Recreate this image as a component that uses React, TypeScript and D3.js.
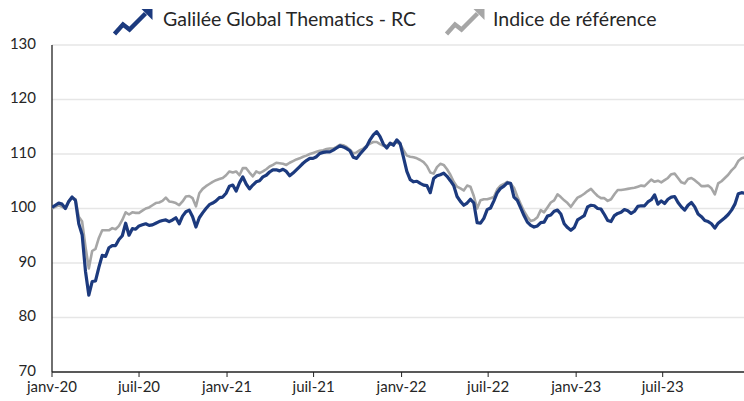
import React from 'react';
import * as d3 from 'd3';

const W = 744;
const H = 401;

// weekly points from 1 Jan 2020
const startDate = new Date(2020, 0, 1);

const fundValues = [
  100.2, 100.6, 101.0, 100.8, 100.0, 101.3, 102.1, 101.5, 97.2, 95.2,
  88.5, 84.1, 86.6, 86.7, 89.2, 91.4, 91.2, 92.8, 93.2, 93.2,
  94.3, 95.0, 97.3, 95.1, 96.3, 96.2, 96.8, 97.0, 97.2, 96.9,
  97.0, 97.3, 97.6, 97.8, 97.9, 97.6, 97.9, 98.3, 97.2, 98.6,
  99.4, 99.7, 98.5, 96.6, 98.3, 99.2, 100.0, 100.7, 101.0, 101.4,
  102.0, 102.1, 102.8, 104.1, 104.3, 103.2, 104.7, 105.8, 104.5, 103.6,
  104.3, 104.9, 105.1, 105.8, 106.1, 106.7, 107.1, 107.1, 106.9, 107.2,
  106.8, 106.0, 106.5, 107.1, 107.7, 108.3, 108.8, 109.2, 109.2, 109.5,
  110.1, 110.3, 110.4, 110.4, 110.7, 111.1, 111.5, 111.3, 111.0, 110.6,
  109.4, 109.2, 110.0, 110.7, 111.4, 112.6, 113.5, 114.1, 113.2, 111.8,
  111.1, 112.0, 111.6, 112.6, 111.9, 109.4, 106.8, 105.3, 104.9, 105.0,
  104.6, 104.3, 104.2, 102.9, 105.5, 106.0, 106.2, 106.5, 105.9, 105.1,
  104.2, 102.2, 101.3, 100.6, 101.0, 101.7, 101.0, 97.4, 97.3, 98.2,
  99.8, 100.1, 101.4, 102.9, 103.7, 104.1, 104.7, 104.6, 102.1, 101.5,
  100.1, 98.7, 97.5, 96.9, 96.6, 96.8, 97.4, 97.5, 98.6, 98.8,
  99.5, 99.7, 99.0, 97.2, 96.5, 96.0, 96.5, 97.9, 98.3, 98.7,
  100.3, 100.6, 100.5, 100.0, 99.9, 98.9, 97.8, 97.6, 98.7, 99.1,
  99.3, 99.8, 99.6, 99.1, 99.5, 100.4, 100.5, 100.5, 101.2, 101.6,
  102.5, 100.8, 101.4, 100.9, 101.7, 102.1, 102.2, 101.1, 100.3, 99.7,
  100.6, 101.1, 100.3, 99.0, 98.5, 97.8, 97.6, 97.2, 96.4, 97.3,
  97.8, 98.3, 98.9, 99.7, 100.8, 102.7, 102.9, 102.8,
];

const indexValues = [
  100.0, 100.3, 100.6, 100.3, 100.0, 101.3, 102.0, 101.7, 98.5, 97.6,
  93.0, 89.0, 92.2, 92.6, 94.6, 96.0, 96.0, 96.0, 96.4, 96.2,
  96.8, 97.9, 99.3, 98.9, 99.3, 99.2, 99.2, 99.6, 100.0, 100.2,
  100.6, 101.0, 101.1, 101.4, 102.0, 101.3, 101.2, 101.0, 100.6, 101.3,
  102.2, 102.3, 101.9, 100.4, 102.8, 103.6, 104.1, 104.5, 104.9, 105.2,
  105.4, 105.6, 106.1, 106.8, 106.6, 106.8, 106.1, 107.4, 107.4, 106.6,
  105.9, 106.8, 106.5, 106.8, 107.2, 107.7, 108.0, 108.4, 108.3, 108.2,
  108.0, 108.4, 108.7, 109.0, 109.2, 109.5, 109.7, 110.0, 110.2, 110.4,
  110.6, 110.7, 110.9, 111.0, 111.0, 111.3, 111.7, 111.6, 111.3, 110.8,
  110.1, 110.3, 110.7, 111.0, 111.5, 111.9, 112.2, 112.2, 111.8, 111.5,
  111.5, 111.7, 112.0, 112.1, 111.8, 110.7, 109.7, 109.5, 109.4, 109.2,
  108.9, 108.5, 107.8, 106.6, 106.4, 107.6, 108.2, 108.0, 107.2, 106.2,
  104.9, 104.0, 103.7, 103.3, 104.2, 104.0, 102.3, 100.0, 101.5, 101.7,
  101.7, 101.9, 102.1, 103.5, 104.2, 104.5, 104.9, 104.6, 103.8, 102.2,
  100.8, 99.5, 98.5, 97.7, 97.9, 98.4, 99.7, 99.3, 100.2, 101.1,
  101.5, 102.6, 102.1, 101.5, 101.0, 100.3, 101.2, 102.0, 102.3, 102.7,
  103.2, 103.6, 102.9, 102.3, 101.9, 101.9, 101.4, 101.7, 102.6, 103.4,
  103.4, 103.5, 103.6, 103.7, 103.8, 104.0, 104.2, 104.1, 104.7, 105.3,
  104.9, 105.1, 104.8, 105.2, 105.6, 106.3, 106.4, 105.6, 104.8, 104.6,
  105.4, 105.6, 105.2, 104.7, 104.1, 104.1, 104.2, 103.7, 102.6, 104.6,
  105.0, 105.6, 106.2, 107.0, 107.6, 108.7, 109.2, 109.4,
];

const yTicks = [70, 80, 90, 100, 110, 120, 130];
const xTickDates = [
  new Date(2020, 0, 1), new Date(2020, 6, 1), new Date(2021, 0, 1), new Date(2021, 6, 1),
  new Date(2022, 0, 1), new Date(2022, 6, 1), new Date(2023, 0, 1), new Date(2023, 6, 1),
];
const xTickLabels = ['janv-20', 'juil-20', 'janv-21', 'juil-21', 'janv-22', 'juil-22', 'janv-23', 'juil-23'];

const seriesNames = ['Galilée Global Thematics - RC', 'Indice de référence'];
const BLUE = '#1c3a7e';
const GREY = '#a6a6a6';
const FONT = 'Lato, "Open Sans", sans-serif';

const left = 52;
const right = 744;
const top = 45;
const bottom = 372;

const dates = fundValues.map((_, i) => d3.timeDay.offset(startDate, i * 7));

function Arrow({ x, color }: { x: number; color: string }) {
  // zigzag arrow glyph, drawn relative to its left edge
  const pts: [number, number][] = [[0, 25], [8.5, 15.5], [15, 20.5], [31, 4.5]];
  const line = d3.line();
  return (
    <g transform={`translate(${x},0)`}>
      <path d={line(pts) ?? ''} fill="none" stroke={color} strokeWidth={4.4} strokeLinejoin="miter" />
      <path d="M27,0 L38,0 L38,11 Z" fill={color} />
    </g>
  );
}

export default function App() {
  const x = d3.scaleTime().domain([startDate, new Date(2023, 11, 18)]).range([left, right]);
  const y = d3.scaleLinear().domain([70, 130]).range([bottom, top]);

  const line = d3.line<number>()
    .x((_, i) => x(dates[i]))
    .y(d => y(d));

  return (
    <svg width={W} height={H} style={{ position: 'absolute', left: 0, top: 0, background: '#fff' }}>
      <defs>
        <clipPath id="plot">
          <rect x={left} y={0} width={right - left} height={H} />
        </clipPath>
      </defs>

      {/* legend */}
      <g transform="translate(0,9)">
        <Arrow x={114.5} color={BLUE} />
        <text x={163} y={12} fontFamily={FONT} fontSize={19.5} fill="#262626" dominantBaseline="middle">{seriesNames[0]}</text>
        <Arrow x={446.5} color={GREY} />
        <text x={493} y={12} fontFamily={FONT} fontSize={19.5} fill="#262626" dominantBaseline="middle">{seriesNames[1]}</text>
      </g>

      {/* grid */}
      {yTicks.filter(t => t > 70).map(t => (
        <line key={t} x1={left} x2={right} y1={y(t)} y2={y(t)} stroke="#e6e6e6" strokeWidth={1.3} />
      ))}

      {/* y labels */}
      {yTicks.map(t => (
        <text key={t} x={36} y={y(t)} textAnchor="end" dominantBaseline="middle"
          fontFamily={FONT} fontSize={15} fill="#262626">{t}</text>
      ))}

      {/* x ticks and labels */}
      {xTickDates.map((d, i) => (
        <g key={i}>
          <line x1={x(d)} x2={x(d)} y1={bottom} y2={bottom + 5} stroke="#222" strokeWidth={1} />
          <text x={x(d)} y={388} textAnchor="middle" dominantBaseline="middle"
            fontFamily={FONT} fontSize={15} fill="#262626">{xTickLabels[i]}</text>
        </g>
      ))}

      {/* axes */}
      <line x1={left} x2={left} y1={top} y2={bottom} stroke="#222" strokeWidth={1.3} />
      <line x1={left} x2={right} y1={bottom} y2={bottom} stroke="#222" strokeWidth={1.3} />

      <g clipPath="url(#plot)">
        <path d={line(indexValues) ?? ''} fill="none" stroke={GREY} strokeWidth={2.6} strokeLinejoin="round" />
        <path d={line(fundValues) ?? ''} fill="none" stroke={BLUE} strokeWidth={3.2} strokeLinejoin="round" />
      </g>
    </svg>
  );
}
